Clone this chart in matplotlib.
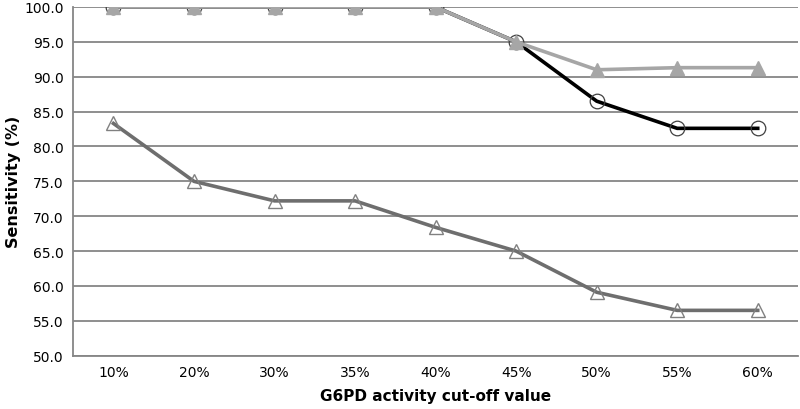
import matplotlib
matplotlib.use("Agg")
import matplotlib.pyplot as plt

categories = ["10%", "20%", "30%", "35%", "40%", "45%", "50%", "55%", "60%"]
series_circle = [100.0, 100.0, 100.0, 100.0, 100.0, 95.0, 86.5, 82.6, 82.6]
series_filled_tri = [100.0, 100.0, 100.0, 100.0, 100.0, 95.0, 91.0, 91.3, 91.3]
series_open_tri = [83.3, 75.0, 72.2, 72.2, 68.4, 65.0, 59.1, 56.5, 56.5]
yticks = [50, 55, 60, 65, 70, 75, 80, 85, 90, 95, 100]

fig = plt.figure(figsize=(8, 4.1), dpi=100)
ax = fig.add_axes([0.0915, 0.13, 0.906, 0.8505])
x = list(range(len(categories)))

ax.plot(x, series_open_tri, color="#6e6e6e", lw=2.6, marker="^", ms=9.5,
        mfc="none", mec="#808080", mew=1.0, zorder=3)
ax.plot(x, series_circle, color="#000000", lw=2.6, marker="o", ms=10.5,
        mfc="none", mec="#404040", mew=0.9, zorder=4)
ax.plot(x, series_filled_tri, color="#a6a6a6", lw=2.6, marker="^", ms=9.5,
        mfc="#a6a6a6", mec="#a6a6a6", zorder=5)

ax.set_xlim(-0.5, len(categories) - 0.5)
ax.set_ylim(50, 100)
ax.set_xticks(x)
ax.set_xticklabels(categories)
ax.set_yticks(yticks)
ax.set_yticklabels([f"{v:.1f}" for v in yticks])
ax.tick_params(axis="both", length=0, labelsize=10, colors="#000000")
ax.tick_params(axis="x", pad=7)
ax.tick_params(axis="y", pad=7)
ax.yaxis.grid(True, color="#868686", lw=1.3)
ax.set_axisbelow(True)
for s in ["top", "right"]:
    ax.spines[s].set_visible(False)
for s in ["left", "bottom"]:
    ax.spines[s].set_color("#868686")
    ax.spines[s].set_linewidth(1.3)

ax.set_xlabel("G6PD activity cut-off value", fontsize=11, fontweight="bold", labelpad=6)
ax.set_ylabel("Sensitivity (%)", fontsize=11.5, fontweight="bold")
ax.yaxis.set_label_coords(-0.072, 0.5)

fig.savefig("out.png", dpi=100)
